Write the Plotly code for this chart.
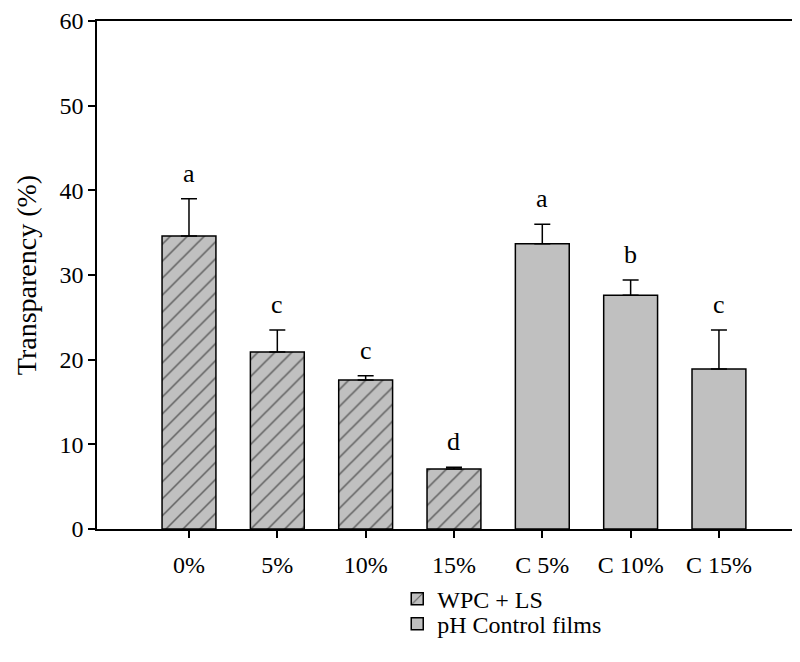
import plotly.graph_objects as go

categories = ["0%", "5%", "10%", "15%", "C 5%", "C 10%", "C 15%"]
wpc_values = [34.6, 20.9, 17.6, 7.1]
wpc_errors = [4.4, 2.6, 0.5, 0.2]
ctrl_values = [33.7, 27.6, 18.9]
ctrl_errors = [2.3, 1.8, 4.6]
letters = ["a", "c", "c", "d", "a", "b", "c"]
y_ticks = [0, 10, 20, 30, 40, 50, 60]

FONT = "Liberation Serif, Times New Roman, serif"
FILL = "#c0c0c0"

x_wpc = list(range(len(wpc_values)))
x_ctrl = list(range(len(wpc_values), len(categories)))

fig = go.Figure()
fig.add_trace(go.Bar(
    x=x_wpc, y=wpc_values, name="WPC + LS", width=0.61, legend="legend",
    marker=dict(color=FILL, line=dict(color="black", width=1.5),
                pattern=dict(shape="/", size=12, solidity=0.13,
                             fgcolor="black", bgcolor=FILL)),
    error_y=dict(type="data", symmetric=False, array=wpc_errors,
                 arrayminus=[0] * len(wpc_errors), color="black",
                 thickness=1.5, width=8),
))
fig.add_trace(go.Bar(
    x=x_ctrl, y=ctrl_values, name="pH Control films", width=0.61, legend="legend2",
    marker=dict(color=FILL, line=dict(color="black", width=1.5)),
    error_y=dict(type="data", symmetric=False, array=ctrl_errors,
                 arrayminus=[0] * len(ctrl_errors), color="black",
                 thickness=1.5, width=8),
))

all_vals = wpc_values + ctrl_values
all_errs = wpc_errors + ctrl_errors
for i, (v, e, t) in enumerate(zip(all_vals, all_errs, letters)):
    fig.add_annotation(x=i, y=v + e, text=t, showarrow=False,
                       yanchor="bottom", yshift=9,
                       font=dict(family=FONT, size=26, color="black"))

leg_common = dict(xanchor="left", yanchor="top", orientation="v",
                  font=dict(family=FONT, size=24), bgcolor="rgba(0,0,0,0)",
                  itemwidth=30)
fig.update_layout(
    width=784, height=646,
    margin=dict(l=89, r=0, t=10, b=125),
    paper_bgcolor="white", plot_bgcolor="white",
    font=dict(family=FONT, size=24, color="black"),
    showlegend=True,
    legend=dict(x=0.432, y=-0.094, **leg_common),
    legend2=dict(x=0.432, y=-0.143, **leg_common),
)
fig.update_xaxes(
    range=[-1.0415, 6.827], tickmode="array",
    tickvals=list(range(len(categories))), ticktext=categories,
    showline=True, linecolor="black", linewidth=1.5, mirror=True,
    ticks="outside", ticklen=7, tickwidth=1.5, tickcolor="black",
    showgrid=False, zeroline=False, ticklabelstandoff=6,
    tickfont=dict(family=FONT, size=24),
)
fig.update_yaxes(
    range=[0, 60], tickmode="array", tickvals=y_ticks,
    showline=True, linecolor="black", linewidth=1.5,
    ticks="outside", ticklen=7, tickwidth=1.5, tickcolor="black",
    showgrid=False, zeroline=False, ticklabeloverflow="allow",
    title=dict(text="Transparency (%)", font=dict(family=FONT, size=28), standoff=15),
    tickfont=dict(family=FONT, size=24),
)

fig.write_html("out.html")
